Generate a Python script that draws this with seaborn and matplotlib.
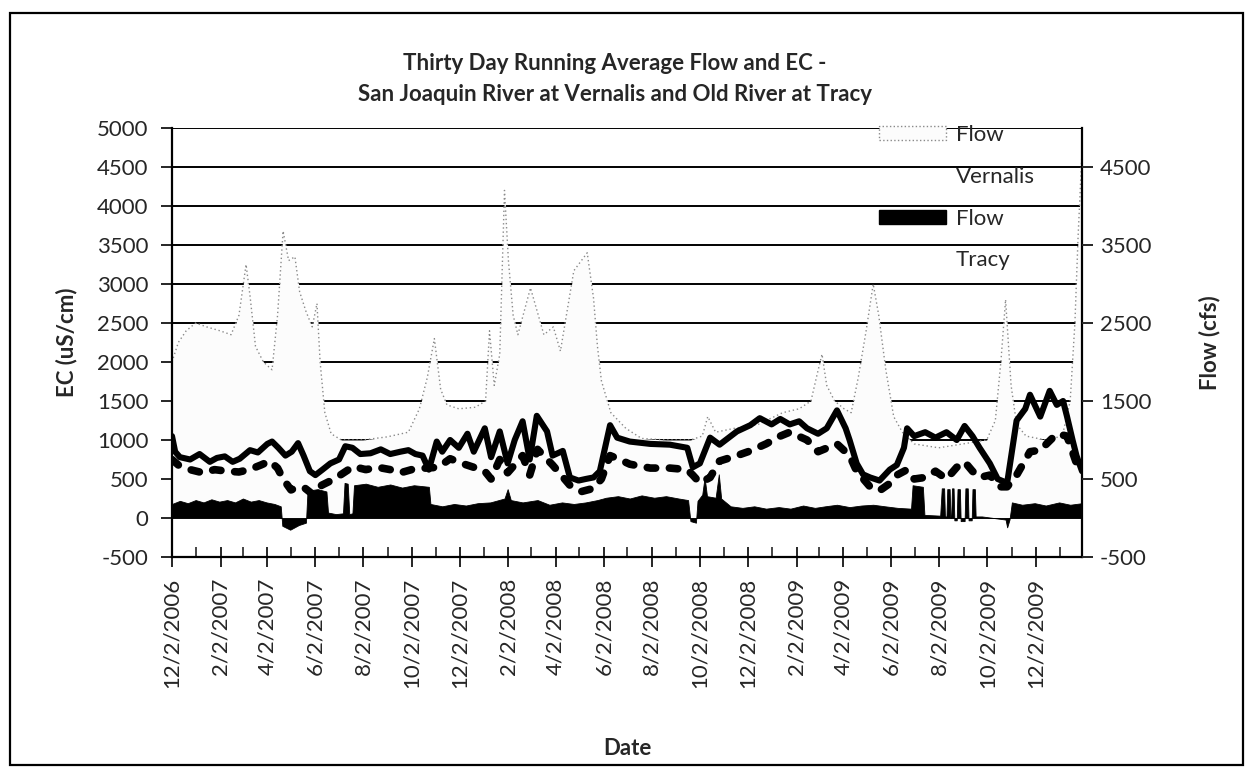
import pandas as pd
import matplotlib
matplotlib.use('Agg')
import matplotlib.pyplot as plt
import matplotlib.dates as mdates
from matplotlib.patches import Patch, Rectangle
from matplotlib.lines import Line2D
from matplotlib.ticker import FixedLocator, FuncFormatter
import seaborn as sns

# Flow at Vernalis (cfs), 30 day running average
vernalis_dates = [
    "2006-12-02", "2006-12-10", "2006-12-20", "2007-01-01", "2007-01-15", "2007-02-01",
    "2007-02-15", "2007-02-25", "2007-03-06", "2007-03-11", "2007-03-18", "2007-03-28",
    "2007-04-08", "2007-04-15", "2007-04-22", "2007-04-29", "2007-05-07", "2007-05-13",
    "2007-05-21", "2007-05-29", "2007-06-04", "2007-06-08", "2007-06-14", "2007-06-22",
    "2007-07-05", "2007-08-01", "2007-09-01", "2007-09-28", "2007-10-12", "2007-10-22",
    "2007-10-31", "2007-11-08", "2007-11-16", "2007-12-01", "2007-12-22", "2008-01-04",
    "2008-01-09", "2008-01-15", "2008-01-22", "2008-01-28", "2008-02-02", "2008-02-08",
    "2008-02-14", "2008-03-01", "2008-03-18", "2008-03-30", "2008-04-08", "2008-04-25",
    "2008-05-12", "2008-05-20", "2008-05-25", "2008-05-30", "2008-06-11", "2008-06-30",
    "2008-07-20", "2008-08-20", "2008-09-20", "2008-10-05", "2008-10-12", "2008-10-22",
    "2008-11-15", "2008-12-15", "2009-01-15", "2009-02-05", "2009-02-20", "2009-02-28",
    "2009-03-06", "2009-03-12", "2009-03-22", "2009-04-03", "2009-04-12", "2009-04-21",
    "2009-05-01", "2009-05-10", "2009-05-17", "2009-05-26", "2009-06-05", "2009-06-16",
    "2009-07-01", "2009-08-01", "2009-09-01", "2009-10-01", "2009-10-12", "2009-10-19",
    "2009-10-25", "2009-11-01", "2009-11-08", "2009-11-20", "2009-12-15", "2010-01-05",
    "2010-01-15", "2010-01-21", "2010-01-25", "2010-01-30",
]
vernalis_flow = [
    2000, 2250, 2400, 2500, 2450, 2400,
    2350, 2600, 3250, 2850, 2200, 2000,
    1900, 2600, 3680, 3300, 3350, 2900,
    2650, 2450, 2750, 2000, 1350, 1080,
    1000, 1000, 1040, 1100, 1400, 1800,
    2300, 1650, 1450, 1400, 1420, 1500,
    2400, 1700, 2100, 4200, 3300, 2600,
    2350, 2950, 2350, 2450, 2140, 3170,
    3400, 2820, 2200, 1760, 1350, 1150,
    1020, 1000, 1000, 1050, 1300, 1100,
    1150, 1200, 1350, 1400, 1500, 1850,
    2100, 1700, 1500, 1400, 1350, 1800,
    2400, 3000, 2600, 1900, 1300, 1100,
    950, 900, 950, 1000, 1250, 2000,
    2800, 1700, 1200, 1050, 1000, 1050,
    1500, 2500, 3600, 4700,
]

# Flow at Tracy (cfs)
tracy_dates = [
    "2006-12-02", "2006-12-12", "2006-12-22", "2007-01-01", "2007-01-11", "2007-01-21",
    "2007-01-31", "2007-02-10", "2007-02-20", "2007-03-02", "2007-03-12", "2007-03-22",
    "2007-04-01", "2007-04-11", "2007-04-19", "2007-04-21", "2007-05-01", "2007-05-12",
    "2007-05-21", "2007-05-23", "2007-06-05", "2007-06-16", "2007-06-18", "2007-06-28",
    "2007-07-07", "2007-07-09", "2007-07-13", "2007-07-15", "2007-07-19", "2007-07-21",
    "2007-08-05", "2007-08-20", "2007-09-05", "2007-09-20", "2007-10-05", "2007-10-24",
    "2007-10-26", "2007-11-10", "2007-11-25", "2007-12-10", "2007-12-25", "2008-01-10",
    "2008-01-28", "2008-02-01", "2008-02-05", "2008-02-20", "2008-03-10", "2008-03-25",
    "2008-04-10", "2008-04-25", "2008-05-10", "2008-05-25", "2008-06-05", "2008-06-20",
    "2008-07-05", "2008-07-20", "2008-08-05", "2008-08-20", "2008-09-05", "2008-09-17",
    "2008-09-20", "2008-09-27", "2008-09-29", "2008-10-05", "2008-10-08", "2008-10-11",
    "2008-10-22", "2008-10-26", "2008-10-29", "2008-11-10", "2008-11-25", "2008-12-10",
    "2008-12-25", "2009-01-10", "2009-01-25", "2009-02-10", "2009-02-25", "2009-03-10",
    "2009-03-25", "2009-04-10", "2009-04-25", "2009-05-10", "2009-05-25", "2009-06-10",
    "2009-06-27", "2009-06-29", "2009-07-12", "2009-07-14", "2009-08-03", "2009-08-05",
    "2009-08-08", "2009-08-09", "2009-08-11", "2009-08-12", "2009-08-15", "2009-08-16",
    "2009-08-17", "2009-08-18", "2009-08-20", "2009-08-21", "2009-08-24", "2009-08-25",
    "2009-08-28", "2009-08-29", "2009-09-03", "2009-09-04", "2009-09-07", "2009-09-08",
    "2009-09-12", "2009-09-13", "2009-09-16", "2009-09-17", "2009-09-25", "2009-10-10",
    "2009-10-25", "2009-10-27", "2009-10-30", "2009-11-02", "2009-11-15", "2009-12-01",
    "2009-12-15", "2010-01-01", "2010-01-15", "2010-01-30",
]
tracy_flow = [
    180, 220, 190, 230, 200, 240,
    210, 230, 200, 250, 210, 230,
    200, 180, 150, -100, -150, -90,
    -60, 350, 370, 340, 70, 50,
    60, 450, 440, 50, 60, 420,
    440, 400, 430, 390, 420, 400,
    180, 150, 180, 160, 190, 200,
    250, 370, 230, 200, 230, 170,
    200, 180, 200, 230, 260, 280,
    250, 290, 260, 280, 250, 230,
    -40, -60, 220, 300, 520, 280,
    260, 560, 250, 150, 130, 150,
    120, 140, 120, 160, 130, 150,
    170, 140, 160, 170, 150, 130,
    120, 420, 400, 40, 30, 380,
    380, 20, 20, 370, 370, 10,
    10, 380, 380, -30, -30, 370,
    370, -40, -40, 380, 380, -30,
    -30, 370, 370, 20, 20, 0,
    -20, -120, -20, 200, 170, 190,
    160, 200, 170, 190,
]

# EC (uS/cm), solid series
ec_solid_dates = [
    "2006-12-02", "2006-12-06", "2006-12-12", "2006-12-25", "2007-01-06", "2007-01-19",
    "2007-01-28", "2007-02-07", "2007-02-17", "2007-02-26", "2007-03-11", "2007-03-21",
    "2007-04-02", "2007-04-08", "2007-04-16", "2007-04-25", "2007-05-03", "2007-05-11",
    "2007-05-18", "2007-05-26", "2007-06-02", "2007-06-11", "2007-06-21", "2007-07-02",
    "2007-07-10", "2007-07-19", "2007-07-29", "2007-08-11", "2007-08-24", "2007-09-05",
    "2007-09-18", "2007-09-28", "2007-10-07", "2007-10-16", "2007-10-24", "2007-11-03",
    "2007-11-10", "2007-11-20", "2007-12-01", "2007-12-12", "2007-12-20", "2008-01-03",
    "2008-01-11", "2008-01-22", "2008-02-01", "2008-02-10", "2008-02-20", "2008-02-29",
    "2008-03-09", "2008-03-22", "2008-03-29", "2008-04-11", "2008-04-20", "2008-05-01",
    "2008-05-10", "2008-05-20", "2008-05-28", "2008-06-10", "2008-06-19", "2008-07-05",
    "2008-07-31", "2008-08-25", "2008-09-16", "2008-09-23", "2008-10-02", "2008-10-15",
    "2008-10-27", "2008-11-18", "2008-12-05", "2008-12-17", "2009-01-01", "2009-01-12",
    "2009-01-24", "2009-02-05", "2009-02-15", "2009-03-01", "2009-03-12", "2009-03-25",
    "2009-04-05", "2009-04-10", "2009-04-19", "2009-04-27", "2009-05-06", "2009-05-18",
    "2009-05-31", "2009-06-09", "2009-06-18", "2009-06-22", "2009-07-01", "2009-07-15",
    "2009-07-28", "2009-08-11", "2009-08-24", "2009-09-03", "2009-09-13", "2009-09-22",
    "2009-10-05", "2009-10-15", "2009-10-27", "2009-11-08", "2009-11-19", "2009-11-25",
    "2009-12-08", "2009-12-20", "2009-12-29", "2010-01-06", "2010-01-11", "2010-01-18",
    "2010-01-23", "2010-01-30",
]
ec_solid = [
    1050, 850, 780, 750, 820, 720,
    770, 790, 720, 760, 870, 840,
    950, 980, 900, 800, 850, 960,
    800, 600, 550, 620, 700, 750,
    920, 900, 820, 830, 880, 820,
    850, 870, 820, 800, 620, 980,
    850, 1000, 900, 1080, 850, 1150,
    780, 1110, 700, 1000, 1240, 750,
    1310, 1110, 800, 860, 520, 480,
    500, 520, 600, 1190, 1030, 980,
    950, 940, 900, 650, 700, 1030,
    940, 1110, 1190, 1280, 1200, 1270,
    1200, 1240, 1150, 1080, 1150, 1380,
    1150, 1000, 700, 560, 520, 480,
    620, 680, 900, 1150, 1050, 1100,
    1030, 1100, 1000, 1180, 1050, 900,
    700, 500, 450, 1250, 1400, 1580,
    1300, 1630, 1450, 1500, 1300, 1000,
    800, 600,
]

# EC (uS/cm), dashed series
ec_dashed_dates = [
    "2006-12-02", "2006-12-10", "2006-12-25", "2007-01-10", "2007-01-25", "2007-02-10",
    "2007-02-25", "2007-03-10", "2007-03-25", "2007-04-05", "2007-04-15", "2007-04-22",
    "2007-05-02", "2007-05-12", "2007-05-20", "2007-05-30", "2007-06-10", "2007-06-22",
    "2007-07-05", "2007-07-20", "2007-08-05", "2007-08-20", "2007-09-05", "2007-09-18",
    "2007-10-02", "2007-10-20", "2007-11-05", "2007-11-20", "2007-12-05", "2007-12-20",
    "2008-01-03", "2008-01-11", "2008-01-22", "2008-02-01", "2008-02-20", "2008-02-29",
    "2008-03-10", "2008-03-29", "2008-04-20", "2008-05-05", "2008-05-20", "2008-05-30",
    "2008-06-10", "2008-06-20", "2008-07-05", "2008-07-31", "2008-08-25", "2008-09-16",
    "2008-09-23", "2008-10-02", "2008-10-15", "2008-10-27", "2008-11-18", "2008-12-05",
    "2008-12-25", "2009-01-12", "2009-01-24", "2009-02-15", "2009-03-01", "2009-03-25",
    "2009-04-10", "2009-04-19", "2009-05-06", "2009-05-18", "2009-06-01", "2009-06-09",
    "2009-06-22", "2009-07-01", "2009-07-15", "2009-07-28", "2009-08-11", "2009-08-24",
    "2009-09-03", "2009-09-13", "2009-09-22", "2009-10-05", "2009-10-18", "2009-10-27",
    "2009-11-08", "2009-11-25", "2009-12-08", "2009-12-29", "2010-01-11", "2010-01-23",
    "2010-01-30",
]
ec_dashed = [
    750, 680, 620, 580, 620, 600,
    590, 620, 680, 730, 640, 500,
    360, 400, 380, 300, 420, 480,
    560, 660, 620, 650, 620, 580,
    620, 640, 650, 760, 700, 650,
    600, 500, 750, 580, 800, 550,
    880, 680, 420, 340, 380, 500,
    800, 760, 690, 640, 640, 620,
    550, 450, 520, 730, 800, 860,
    950, 1050, 1100, 1000, 850, 950,
    800, 600, 400, 350, 450, 550,
    620, 500, 520, 600, 500, 650,
    720, 600, 520, 550, 400, 400,
    550, 850, 870, 1080, 1050, 700,
    600,
]

ec_ticks = list(range(-500, 5001, 500))
flow_ticks = list(range(-500, 4501, 1000))

vern = pd.DataFrame({"date": pd.to_datetime(vernalis_dates), "flow": vernalis_flow})
tracy = pd.DataFrame({"date": pd.to_datetime(tracy_dates), "flow": tracy_flow})
ec1 = pd.DataFrame({"date": pd.to_datetime(ec_solid_dates), "ec": ec_solid})
ec2 = pd.DataFrame({"date": pd.to_datetime(ec_dashed_dates), "ec": ec_dashed})

sns.set_style("white")
plt.rcParams['font.family'] = ['Lato', 'DejaVu Sans']
plt.rcParams['axes.unicode_minus'] = False
fs = 16

fig = plt.figure(figsize=(12.49, 7.77), dpi=100)
W, H = 1249, 777
ax = fig.add_axes([172 / W, 1 - 557 / H, (1082 - 172) / W, (557 - 128) / H])

# areas (flows share the same scale as the EC axis)
ax.fill_between(vern["date"], 0, vern["flow"], color="#fcfcfc", lw=0, zorder=2)
sns.lineplot(data=vern, x="date", y="flow", ax=ax, color="#8a8a8a", lw=1.0,
             linestyle=(0, (1, 2)), zorder=2.5)
ax.fill_between(tracy["date"], 0, tracy["flow"], color="black", lw=0.6,
                edgecolor="black", zorder=3)

# EC lines
sns.lineplot(data=ec2, x="date", y="ec", ax=ax, color="black", lw=5.5,
             linestyle=(0, (1.1, 1.8)), dash_capstyle="round", zorder=4)
sns.lineplot(data=ec1, x="date", y="ec", ax=ax, color="black", lw=4.4,
             solid_joinstyle="round", zorder=5)

ax.set_xlim(pd.Timestamp("2006-12-02"), pd.Timestamp("2010-01-30"))
ax.set_ylim(-500, 5000)
ax.yaxis.set_major_locator(FixedLocator(ec_ticks))
ax.grid(axis="y", color="black", lw=1.4, zorder=0)
ax.set_axisbelow(True)

ax.xaxis.set_major_locator(mdates.MonthLocator(bymonth=(2, 4, 6, 8, 10, 12), bymonthday=2))
ax.xaxis.set_minor_locator(mdates.MonthLocator(bymonth=(1, 3, 5, 7, 9, 11), bymonthday=2))


def date_label(v, pos):
    d = mdates.num2date(v)
    return f"{d.month}/{d.day}/{d.year}"


ax.xaxis.set_major_formatter(FuncFormatter(date_label))
ax.tick_params(axis="x", which="major", direction="inout", length=14, width=1.4,
               labelsize=fs, labelrotation=90, pad=8, bottom=True)
ax.tick_params(axis="x", which="minor", direction="in", length=7, width=1.2, bottom=True)
ax.tick_params(axis="y", direction="out", length=8, width=1.4, labelsize=fs, pad=9, left=True)

for s in ax.spines.values():
    s.set_color("black")
    s.set_linewidth(1.6)
ax.spines["top"].set_visible(False)

ax.set_xlabel("Date", fontsize=fs, fontweight="bold", labelpad=36)
ax.set_ylabel("EC (uS/cm)", fontsize=fs, fontweight="bold", labelpad=14)

ax2 = ax.twinx()
ax2.set_ylim(ax.get_ylim())
ax2.yaxis.set_major_locator(FixedLocator(flow_ticks))
ax2.tick_params(axis="y", direction="out", length=8, width=1.4, labelsize=fs, pad=5, right=True)
for s in ax2.spines.values():
    s.set_visible(False)
ax2.set_ylabel("Flow (cfs)", fontsize=fs, fontweight="bold", labelpad=34)

fig.text(615 / W, 1 - 79 / H,
         "Thirty Day Running Average Flow and EC -\nSan Joaquin River at Vernalis and Old River at Tracy",
         ha="center", va="center", fontsize=fs, fontweight="bold", linespacing=1.55)

handles = [
    Patch(facecolor="#fcfcfc", edgecolor="#8a8a8a", linestyle=":", lw=1),
    Line2D([], [], lw=0),
    Patch(facecolor="black", edgecolor="black"),
    Line2D([], [], lw=0),
]
labels = ["Flow", "Vernalis", "Flow", "Tracy"]
fig.legend(handles, labels, loc="upper left", bbox_to_anchor=(879 / W, 1 - 125 / H),
           frameon=False, fontsize=fs, handlelength=3.0, handleheight=0.6,
           handletextpad=0.45, labelspacing=0.98, borderpad=0, borderaxespad=0)

fig.patches.append(Rectangle((10 / W, 1 - 765 / H), (1243 - 10) / W, (765 - 13) / H,
                             transform=fig.transFigure, fill=False, edgecolor="black",
                             lw=1.6))

fig.savefig("out.png", dpi=100)
